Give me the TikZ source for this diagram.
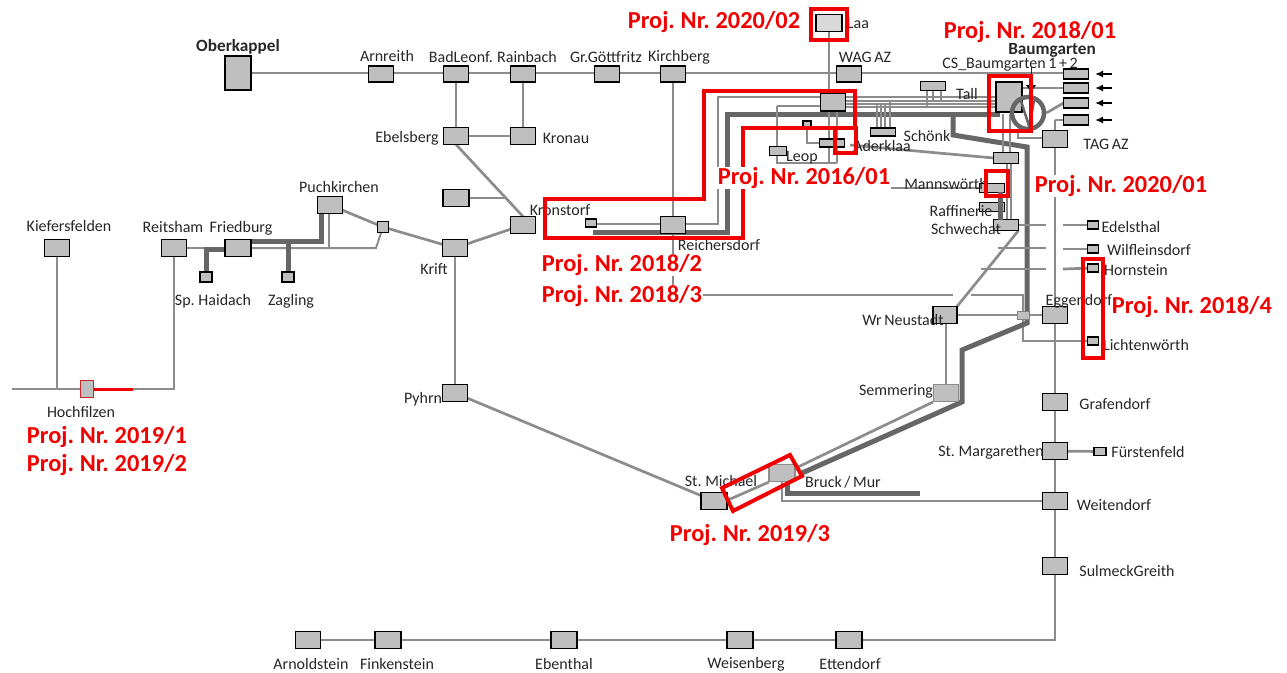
\documentclass[tikz,border=0pt]{standalone}
\usepackage{fontspec}
\setmainfont[WordSpace=0.7]{Carlito}
\usetikzlibrary{backgrounds,arrows.meta}
\definecolor{stfill}{HTML}{BFBFBF}
\definecolor{pipe}{HTML}{8C8C8C}
\definecolor{thickpipe}{HTML}{666666}
\definecolor{redmark}{HTML}{F00000}
\definecolor{txt}{HTML}{262626}
\tikzset{
 st/.style={draw=black,fill=stfill,line width=1.3pt,minimum width=25pt,minimum height=17pt,inner sep=0pt,outer sep=0pt},
 stb/.style={st,minimum width=26pt,minimum height=34pt},
 stw/.style={st,minimum width=25pt,minimum height=10pt},
 sts/.style={st,minimum width=12pt,minimum height=9pt,line width=1.1pt},
 stg/.style={st,draw=gray!90},
 lab/.style={font=\fontsize{16}{18}\selectfont,text=txt,inner sep=0pt},
 labb/.style={font=\fontsize{17.2}{18}\selectfont\bfseries,text=txt,inner sep=0pt},
 pj/.style={font=\fontsize{24.4}{26}\selectfont\bfseries,text=redmark,fill=white,inner xsep=1pt,inner ysep=0pt},
 ln/.style={draw=pipe,line width=2.7pt},
 lt/.style={draw=pipe,line width=2pt},
 lk/.style={draw=thickpipe,line width=5pt},
 rb/.style={draw=redmark,line width=4pt,line join=miter},
 arr/.style={-{Latex[length=8pt,width=7pt]},draw=black,line width=1.6pt}
}
\begin{document}
\begin{tikzpicture}[x=1pt,y=-1pt]
\path[use as bounding box] (0,0) rectangle (1287,672);
% stations
\node[stb] (ober) at (238,73) {};
\node[st,minimum height=16pt] (arn) at (381,74) {};
\node[st,minimum height=16pt] (bad) at (456,74) {};
\node[st,minimum height=16pt] (rai) at (523,74) {};
\node[st,minimum height=16pt] (goe) at (607,74) {};
\node[st,minimum height=16pt] (kir) at (673,74) {};
\node[st,minimum height=16pt] (wag) at (849,74) {};
\node[st,fill=gray!30,minimum width=26pt] (laa) at (829,23) {};
\node[st,minimum height=18pt] (comp) at (833,102) {};
\node[st] (ebe) at (456,136) {};
\node[st] (kro) at (523,136) {};
\node[st,minimum width=26pt] (nn) at (456,198) {};
\node[st] (kri) at (455,248) {};
\node[st] (kst) at (523,225) {};
\node[sts,minimum width=11pt,minimum height=8pt] (ksm) at (591,223) {};
\node[st] (rei) at (673,225) {};
\node[st] (puc) at (330,205) {};
\node[sts,minimum width=11pt,minimum height=11pt] (psm) at (383,227) {};
\node[st,minimum width=26pt] (fri) at (238,248) {};
\node[st] (rts) at (174,248) {};
\node[sts,minimum height=10pt] (hai) at (206,277) {};
\node[sts,minimum height=10pt] (zag) at (288,277) {};
\node[st] (kie) at (57,248) {};
\node[st,draw=redmark!70!gray,minimum width=13pt] (hoc) at (87,389) {};
\node[st] (pyh) at (455,393) {};
\node[st,minimum width=26pt] (mic) at (714,501) {};
\node[stg,minimum width=26pt] (bru) at (782,473) {};
\node[stg] (sem) at (946,393) {};
\node[st,minimum width=24pt] (wrn) at (945,315) {};
\node[sts,draw=gray,line width=.8pt,minimum height=8pt] (esm) at (1023,315) {};
\node[st] (egg) at (1055,315) {};
\node[st] (gra) at (1055,402) {};
\node[st] (mar) at (1055,451) {};
\node[sts,minimum height=8pt] (fue) at (1100,451.5) {};
\node[st] (wei) at (1055,501) {};
\node[st] (sul) at (1055,566) {};
\node[st] (arno) at (308,640) {};
\node[st,minimum width=26pt] (fin) at (388,640) {};
\node[st,minimum width=26pt] (ebn) at (564,640) {};
\node[st,minimum width=26pt] (wes) at (740,640) {};
\node[st,minimum width=26pt] (ett) at (849,640) {};
\node[sts,minimum width=11pt,minimum height=8pt] (ede) at (1093,225) {};
\node[sts,minimum width=11pt,minimum height=8pt] (wil) at (1093,249) {};
\node[sts,minimum width=11pt,minimum height=8pt] (hor) at (1093,268) {};
\node[sts,minimum width=11pt,minimum height=8pt] (lic) at (1093,341) {};
\node[st,minimum width=26pt,minimum height=30pt] (bau) at (1009,97) {};
\node[stw] (e1) at (1076,74) {};
\node[stw] (e2) at (1076,88) {};
\node[stw] (e3) at (1076,103) {};
\node[stw] (e4) at (1076,120) {};
\node[st] (tag) at (1055,139) {};
\node[st,minimum height=9pt] (tal) at (933,86) {};
\node[st,minimum height=8pt] (sch) at (883,132) {};
\node[sts,minimum width=8pt,minimum height=6pt] (ssm) at (807,124) {};
\node[st,minimum height=8pt] (ade) at (832,143) {};
\node[st,minimum width=17pt,minimum height=9pt] (leo) at (778,151) {};
\node[stw,minimum height=11pt] (uni) at (1006,158) {};
\node[stw,minimum height=9pt] (man) at (992,188) {};
\node[stw,minimum height=9pt] (raf) at (992,207) {};
\node[stw,minimum height=11pt] (swe) at (1006,225) {};
% circle with V
\node[circle,draw=thickpipe,line width=4.5pt,minimum size=32pt,inner sep=0pt] (ring) at (1028,113) {};
% free ends
\coordinate (fa1) at (12,389);
\coordinate (fa2) at (57,389);
\coordinate (fa3) at (133,389);
\coordinate (fa4) at (174,389);
\coordinate (fb1) at (505,198);
\coordinate (fb2) at (376,248);
\coordinate (fb3) at (329,248);
\coordinate (fc1) at (718,224);
\coordinate (fc2) at (718,97);
\coordinate (fc3) at (1000,97);
\coordinate (fd1) at (593,232);
\coordinate (fd2) at (727,232);
\coordinate (fd3) at (727,114);
\coordinate (fd4) at (1000,114);
\coordinate (fe1) at (953,114);
\coordinate (fe2) at (953,135);
\coordinate (fe3) at (1027,147);
\coordinate (fe4) at (1027,323);
\coordinate (fe5) at (962,350);
\coordinate (fe6) at (962,402);
\coordinate (fe7) at (802,473);
\coordinate (ff1) at (787,483);
\coordinate (ff2) at (787,493);
\coordinate (ff3) at (920,493);
\coordinate (ff4) at (782,482);
\coordinate (ff5) at (782,501);
\coordinate (fg1) at (673,295);
\coordinate (fg2) at (953,295);
\coordinate (fg3) at (971,295);
\coordinate (fg4) at (1023,295);
\coordinate (fg5) at (1023,341);
\coordinate (fh2) at (998,248);
\coordinate (fh3) at (1046,248);
\coordinate (fh4) at (1063,249);
\coordinate (fh5) at (981,269);
\coordinate (fh6) at (1046,269);
\coordinate (fh7) at (1063,269);
\coordinate (fh8) at (1046,225);
\coordinate (fh9) at (1063,225);
\coordinate (fi1) at (1055,640);
\coordinate (fj1) at (845,101);
\coordinate (fj2) at (996,101);
\coordinate (fj3) at (845,104);
\coordinate (fj4) at (996,104);
\coordinate (fj5) at (845,107);
\coordinate (fj6) at (996,107);
\coordinate (fk1) at (777,106);
\coordinate (fk2) at (820,106);
\coordinate (fk3) at (777,163);
\coordinate (fk4) at (837,163);
\coordinate (fk5) at (837,111);
\coordinate (fk6) at (829,111);
\coordinate (fk7) at (829,163);
\coordinate (fk8) at (807,143);
\coordinate (fl1) at (850,145);
\coordinate (fm1) at (883,188);
\coordinate (fn1) at (1055,120);
\coordinate (fo1) at (1018,130);
\coordinate (fo2) at (1018,138);
\coordinate (fp1) at (1022,88);
\coordinate (fq1) at (1003,114);
\coordinate (fq2) at (1003,152);
\coordinate (fq3) at (1010,114);
\coordinate (fq4) at (1010,152);
\coordinate (fq5) at (1007,163);
\coordinate (fq6) at (1007,219);
\coordinate (fq7) at (1011,163);
\coordinate (fq8) at (1011,219);
\coordinate (fr1) at (1000,192);
\coordinate (fr2) at (1000,220);
\coordinate (fs1) at (877,103);\coordinate (fs2) at (877,128);
\coordinate (fs3) at (881,103);\coordinate (fs4) at (881,128);
\coordinate (fs5) at (885,103);\coordinate (fs6) at (885,128);
\coordinate (fs7) at (890,100);\coordinate (fs8) at (890,128);
\coordinate (ft1) at (927,90);\coordinate (ft2) at (927,107);
\coordinate (ft3) at (933,90);\coordinate (ft4) at (933,101);
\coordinate (ft5) at (941,90);\coordinate (ft6) at (941,101);
\coordinate (fu1) at (1112,74);\coordinate (fu2) at (1095,74);
\coordinate (fu3) at (1112,88);\coordinate (fu4) at (1095,88);
\coordinate (fu5) at (1112,103);\coordinate (fu6) at (1095,103);
\coordinate (fu7) at (1112,120);\coordinate (fu8) at (1095,120);
\coordinate (fv1) at (1021,101);\coordinate (fv2) at (1029,126);\coordinate (fv3) at (1034,101);
\coordinate (fw1) at (1031,67);\coordinate (fw2) at (1031,75);
\coordinate (fx1) at (1026,85);\coordinate (fx2) at (1036,85);\coordinate (fx3) at (1031,92);
\coordinate (fy1) at (673,279);\coordinate (fy2) at (673,282);
\coordinate (fz1) at (321,241);\coordinate (fz2) at (206,249);\coordinate (fz3) at (288,241);
\coordinate (ga1) at (933,402);\coordinate (ga2) at (798,467);
\coordinate (ga3) at (769,482);\coordinate (ga4) at (728,500);
\coordinate (gb1) at (597,224);
% connectors
\begin{pgfonlayer}{background}
\draw[ln] (ober.east) -- (e1.west |- ober.east);
\draw[ln] (bad) -- (ebe);
\draw[ln] (rai) -- (kro);
\draw[ln] (ebe) -- (kro);
\draw[ln] (ebe.south) -- (kst.north);
\draw[ln] (nn) -- (fb1);
\draw[ln] (kri) -- (kst);
\draw[ln] (kri) -- (pyh);
\draw[ln] (puc) -- (psm);
\draw[ln] (psm) -- (kri);
\draw[ln] (pyh) -- (mic);
\draw[ln] (kir) -- (rei);
\draw[ln] (rei) -- (fg1) -- (fg2);
\draw[ln] (fg3) -- (fg4) -- (fg5) -- (lic);
\draw[ln] (laa.south) -- (laa.south |- comp.north);
\draw[ln] (kie) -- (fa2);
\draw[ln] (fa1) -- (fa3);
\draw[ln] (fa3) -- (fa4) -- (rts);
\draw[ln] (rts.east) -- (fri.west);
\draw[lt] (puc.south -| fb3) -- (fb3);
\draw[lt] (fri.east |- fb2) -- (fb2) -- (psm);
\draw[lk,line join=miter] (puc.south -| fz1) -- (fz1) -- (fri.east |- fz1);
\draw[lk] (fri.west |- fz2) -- (fz2) -- (hai.north);
\draw[lk] (fz3) -- (zag.north);
\draw[ln] (gb1) -- (rei.west |- gb1);
\draw[ln] (rei.east |- fc1) -- (fc1) -- (fc2) -- (fc3);
\draw[lk] (fd1) -- (fd2) -- (fd3) -- (fd4);
\draw[ln] (fj1) -- (fj2);
\draw[ln] (fj3) -- (fj4);
\draw[ln] (fj5) -- (fj6);
\draw[lk,line join=miter] (fe1) -- (fe2) -- (fe3) -- (fe4) -- (fe5) -- (fe6) -- (fe7);
\draw[lk] (ff1) -- (ff2) -- (ff3);
\draw[ln] (ff4) -- (ff5) -- (wei);
\draw[ln] (ga1) -- (ga2);
\draw[ln] (ga3) -- (ga4);
\draw[ln] (sem) -- (sem |- wrn.south);
\draw[ln] (wrn) -- (esm);
\draw[ln] (esm) -- (egg);
\draw[ln] (swe.south east) -- (wrn.north east);
\draw[ln] (tag) -- (fi1) -- (arno);
\draw[ln] (mar) -- (fue);
\draw[ln] (swe.east) -- (fh8);
\draw[ln] (fh9) -- (ede);
\draw[ln] (fh2) -- (fh3);
\draw[ln] (fh4) -- (wil);
\draw[ln] (fh5) -- (fh6);
\draw[ln] (fh7) -- (hor);
\draw[lt] (fk1) -- (fk2);
\draw[lt] (fk1) -- (fk3) -- (fk4);
\draw[lt] (fk7) -- (fk6);
\draw[lt] (fk4) -- (fk5);
\draw[lt] (ssm) -- (fk8) -- (ade.west);
\draw[ln] (fl1) -- (uni.west);
\draw[ln] (fm1) -- (man.west);
\draw[ln] (fn1) -- (e4.west);
\draw[ln] (fn1) -- (tag.north);
\draw[ln] (fp1) -- (e2.west);
\draw[ln] (ring.east) -- (e3.west);
\draw[ln] (fo1) -- (fo2) -- (tag.west |- fo2);
\draw[ln] (fq1) -- (fq2);
\draw[ln] (fq3) -- (fq4);
\draw[lt] (fq5) -- (fq6);
\draw[lt] (fq7) -- (fq8);
\draw[lt] (fs1) -- (fs2);
\draw[lt] (fs3) -- (fs4);
\draw[lt] (fs5) -- (fs6);
\draw[lt] (fs7) -- (fs8);
\draw[lt] (ft1) -- (ft2);
\draw[lt] (ft3) -- (ft4);
\draw[lt] (ft5) -- (ft6);
\draw[ln] (fy1) -- (fy2);
\end{pgfonlayer}
\draw[lk] (fr1) -- (fr2);
\draw[thickpipe,line width=2.5pt,line join=miter] (fv1) -- (fv2) -- (fv3);
\draw[txt,line width=1pt] (fw1) -- (fw2);
\fill[black] (fx1) -- (fx2) -- (fx3) -- cycle;
\draw[arr] (fu1) -- (fu2);
\draw[arr] (fu3) -- (fu4);
\draw[arr] (fu5) -- (fu6);
\draw[arr] (fu7) -- (fu8);
% labels
\node[labb] (t1) at (238,47) {Oberkappel};
\node[lab] (t2) at (387,56) {Arnreith};
\node[lab] (t3) at (461,57) {BadLeonf.};
\node[lab] (t4) at (527,57) {Rainbach};
\node[lab] (t5) at (606,57) {Gr.Göttfritz};
\node[lab] (t6) at (679,57) {Kirchberg};
\node[lab] (t7) at (865,57) {WAG AZ};
\node[lab] (t8) at (858,23) {Laa};
\node[lab] (t9) at (407,138) {Ebelsberg};
\node[lab] (t10) at (566,138) {Kronau};
\node[lab] (t11) at (339,187) {Puchkirchen};
\node[lab] (t12) at (560,210) {Kronstorf};
\node[lab] (t13) at (719,245) {Reichersdorf};
\node[lab] (t14) at (69,226) {Kiefersfelden};
\node[lab] (t15) at (173,227) {Reitsham};
\node[lab] (t16) at (241,228) {Friedburg};
\node[lab] (t17) at (213,301) {Sp. Haidach};
\node[lab] (t18) at (291,301) {Zagling};
\node[lab] (t19) at (434,269) {Krift};
\node[lab] (t20) at (81,412) {Hochfilzen};
\node[lab] (t21) at (423,399) {Pyhrn};
\node[lab] (t22) at (721,481) {St. Michael};
\node[lab] (t23) at (843,482) {Bruck / Mur};
\node[lab] (t24) at (896,391) {Semmering};
\node[lab] (t25) at (903,320) {Wr Neustadt};
\node[lab] (t26) at (1079,301) {Eggendorf};
\node[lab] (t27) at (1115,404) {Grafendorf};
\node[lab] (t28) at (991,452) {St. Margarethen};
\node[lab] (t29) at (1148,452) {Fürstenfeld};
\node[lab] (t30) at (1114,505) {Weitendorf};
\node[lab] (t31) at (1127,571) {SulmeckGreith};
\node[lab] (t32) at (311,664) {Arnoldstein};
\node[lab] (t33) at (397,664) {Finkenstein};
\node[lab] (t34) at (564,664) {Ebenthal};
\node[lab] (t35) at (746,664) {Weisenberg};
\node[lab] (t36) at (850,664) {Ettendorf};
\node[lab] (t37) at (1131,227) {Edelsthal};
\node[lab] (t38) at (1149,250) {Wilfleinsdorf};
\node[lab] (t39) at (1136,270) {Hornstein};
\node[lab] (t40) at (1146,345) {Lichtenwörth};
\node[lab] (t41) at (1106,144) {TAG AZ};
\node[lab] (t42) at (967,94) {Tall};
\node[lab] (t43) at (927,136) {Schönk};
\node[lab] (t44) at (882,146) {Aderklaa};
\node[lab] (t45) at (802,158) {Leop};
\node[lab] (t46) at (946,184) {Mannswörth};
\node[lab] (t47) at (961,211) {Raffinerie};
\node[lab] (t48) at (966,229) {Schwechat};
\node[labb] (t49) at (1052,50) {Baumgarten};
\node[lab] (t50) at (1010,65) {CS\_Baumgarten 1 + 2};
% red marks
\coordinate (r1) at (545,199);\coordinate (r2) at (704,199);\coordinate (r3) at (704,91);
\coordinate (r4) at (855,91);\coordinate (r5) at (855,128);\coordinate (r6) at (743,128);
\coordinate (r7) at (743,238);\coordinate (r8) at (545,238);
\draw[rb] (r1) -- (r2) -- (r3) -- (r4) -- (r5) -- (r6) -- (r7) -- (r8) -- cycle;
\draw[rb] (835,128) rectangle (856,153);
\draw[rb] (811,9) rectangle (847,40);
\draw[rb] (989,76) rectangle (1031,131);
\draw[rb] (986,171) rectangle (1008,196);
\draw[rb] (1083,259) rectangle (1103,358);
\draw[rb] (722,488) -- (790,455) -- (802,476) -- (733,511) -- cycle;
\draw[redmark,line width=3pt] (hoc.east) -- (fa3);
% project labels
\node[pj] (p1) at (714,22) {Proj. Nr. 2020/02};
\node[pj] (p2) at (1030,32) {Proj. Nr. 2018/01};
\node[pj] (p3) at (804,178) {Proj. Nr. 2016/01};
\node[pj] (p4) at (1121,186) {Proj. Nr. 2020/01};
\node[pj] (p5) at (622,265) {Proj. Nr. 2018/2};
\node[pj] (p6) at (622,296) {Proj. Nr. 2018/3};
\node[pj] (p7) at (1192,307) {Proj. Nr. 2018/4};
\node[pj] (p8) at (107,437) {Proj. Nr. 2019/1};
\node[pj] (p9) at (107,465) {Proj. Nr. 2019/2};
\node[pj] (p10) at (750,535) {Proj. Nr. 2019/3};
\end{tikzpicture}
\end{document}
